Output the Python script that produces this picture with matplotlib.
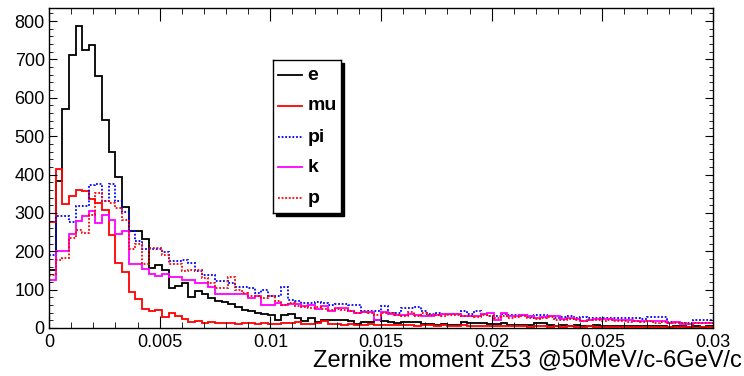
import numpy as np
import matplotlib
matplotlib.use("Agg")
import matplotlib.pyplot as plt
from matplotlib.patches import Rectangle
from matplotlib.ticker import MultipleLocator

plt.rcParams['font.family'] = ['Liberation Sans', 'DejaVu Sans']

# 100 bins from 0 to 0.03
x_min, x_max, n_bins = 0.0, 0.03, 100

labels = ['e', 'mu', 'pi', 'k', 'p']

e_counts = [150, 384, 570, 712, 787, 725, 737, 657, 542, 458,
            393, 315, 252, 252, 233, 157, 164, 150, 105, 109,
            118, 81, 96, 89, 79, 70, 68, 62, 55, 48,
            44, 38, 36, 35, 20, 35, 37, 25, 18, 27,
            16, 22, 21, 22, 22, 18, 11, 15, 15, 20,
            18, 16, 12, 15, 15, 16, 10, 10, 9, 10,
            9, 9, 15, 13, 13, 12, 11, 10, 14, 9,
            9, 8, 9, 14, 13, 7, 6, 8, 6, 7,
            5, 6, 7, 5, 6, 4, 5, 6, 4, 5,
            6, 4, 5, 3, 4, 5, 3, 4, 3, 4]

mu_counts = [276, 415, 323, 343, 360, 358, 336, 325, 307, 243,
             170, 146, 94, 76, 49, 44, 47, 29, 40, 31,
             23, 16, 18, 14, 15, 12, 14, 13, 11, 12,
             12, 10, 12, 11, 10, 12, 14, 16, 11, 11,
             12, 18, 10, 10, 9, 10, 8, 9, 10, 8,
             7, 9, 8, 7, 8, 6, 7, 8, 6, 7,
             5, 6, 7, 5, 6, 5, 6, 4, 5, 6,
             4, 5, 3, 4, 5, 3, 4, 3, 4, 3,
             3, 4, 2, 3, 3, 2, 3, 2, 3, 2,
             2, 3, 2, 2, 3, 2, 2, 1, 2, 2]

pi_counts = [190, 292, 291, 275, 317, 317, 373, 376, 330, 375,
             330, 302, 252, 228, 205, 205, 205, 198, 174, 174,
             176, 169, 148, 139, 139, 122, 122, 118, 106, 106,
             104, 92, 100, 83, 83, 106, 72, 70, 66, 64,
             69, 66, 61, 62, 62, 61, 61, 44, 45, 44,
             57, 40, 40, 51, 51, 55, 44, 37, 40, 36,
             36, 37, 44, 36, 44, 36, 31, 31, 37, 34,
             34, 35, 28, 34, 33, 31, 25, 28, 31, 27,
             29, 27, 27, 25, 25, 25, 25, 25, 25, 23,
             29, 29, 29, 16, 16, 14, 14, 20, 20, 20]

k_counts = [126, 200, 200, 245, 278, 293, 304, 274, 295, 282,
            245, 254, 167, 167, 155, 140, 135, 140, 133, 133,
            124, 124, 118, 118, 107, 88, 88, 88, 89, 88,
            79, 83, 60, 60, 66, 60, 63, 63, 57, 61,
            49, 57, 44, 53, 53, 45, 40, 42, 42, 22,
            42, 37, 34, 34, 37, 34, 31, 31, 34, 36,
            36, 37, 31, 31, 31, 36, 40, 22, 40, 31,
            31, 35, 31, 27, 29, 31, 31, 23, 27, 23,
            18, 20, 23, 23, 23, 20, 20, 20, 18, 18,
            18, 17, 17, 14, 16, 11, 11, 14, 14, 14]

p_counts = [139, 178, 183, 235, 256, 248, 295, 351, 330, 327,
            312, 282, 207, 219, 168, 209, 209, 190, 167, 167,
            148, 150, 152, 131, 118, 105, 105, 133, 100, 92,
            83, 83, 79, 83, 71, 60, 66, 58, 55, 52,
            54, 50, 48, 50, 47, 45, 40, 41, 38, 35,
            40, 38, 34, 30, 42, 30, 40, 34, 33, 30,
            33, 34, 31, 30, 28, 33, 30, 25, 30, 27,
            28, 30, 25, 24, 26, 28, 22, 20, 24, 21,
            19, 22, 20, 18, 21, 17, 19, 16, 18, 15,
            17, 14, 16, 13, 12, 14, 11, 13, 12, 12]

series = [e_counts, mu_counts, pi_counts, k_counts, p_counts]
colors = ['black', '#ff0000', '#0000ff', '#ff00ff', '#ff0000']
styles = ['-', '-', (0, (1, 1)), '-', (0, (1, 1))]

edges = np.linspace(x_min, x_max, n_bins + 1)

W, H = 744, 376
fig = plt.figure(figsize=(W / 100, H / 100), dpi=100)
ax = fig.add_axes([49 / W, 1 - 328 / H, (713 - 49) / W, (328 - 8) / H])

for vals, c, ls in zip(series, colors, styles):
    ax.stairs(vals, edges, baseline=None, color=c, linestyle=ls, linewidth=1.3)

ax.set_xlim(x_min, x_max)
ax.set_ylim(0, 834)
ax.xaxis.set_major_locator(MultipleLocator(0.005))
ax.xaxis.set_minor_locator(MultipleLocator(0.001))
ax.yaxis.set_major_locator(MultipleLocator(100))
ax.yaxis.set_minor_locator(MultipleLocator(20))
ax.xaxis.set_major_formatter(matplotlib.ticker.FuncFormatter(lambda v, p: '%g' % round(v, 4)))
ax.tick_params(which='both', direction='in', top=True, right=True, labelsize=13, colors='black')
ax.tick_params(axis='x', which='major', length=9, pad=4)
ax.tick_params(axis='x', which='minor', length=4.5)
ax.tick_params(axis='y', which='major', length=6, pad=3)
ax.tick_params(axis='y', which='minor', length=3)
for s in ax.spines.values():
    s.set_linewidth(1.0)

fig.text(742 / W, 1 - 360 / H, 'Zernike moment Z53 @50MeV/c-6GeV/c',
         ha='right', va='center', fontsize=17)

# legend box with shadow (ROOT TLegend look)
lx0, lx1, ly0, ly1 = 273, 341, 60, 213
fig.patches.append(Rectangle(((lx0 + 3) / W, 1 - (ly1 + 3) / H), (lx1 - lx0) / W, (ly1 - ly0) / H,
                             transform=fig.transFigure, facecolor='black', edgecolor='black', zorder=5))
lax = fig.add_axes([lx0 / W, 1 - ly1 / H, (lx1 - lx0) / W, (ly1 - ly0) / H], zorder=6)
lax.set_xlim(0, lx1 - lx0)
lax.set_ylim(ly1 - ly0, 0)
lax.set_xticks([])
lax.set_yticks([])
lax.set_facecolor('white')
for s in lax.spines.values():
    s.set_linewidth(1.0)
rows = [15, 46, 77, 107, 138]
for lab, c, ls, yy in zip(labels, colors, styles, rows):
    lax.plot([5, 29], [yy, yy], color=c, linestyle=ls, linewidth=1.3)
    lax.text(34.5, yy, lab, fontsize=14, fontweight='bold', ha='left', va='center')

fig.savefig('out.png', dpi=100)
